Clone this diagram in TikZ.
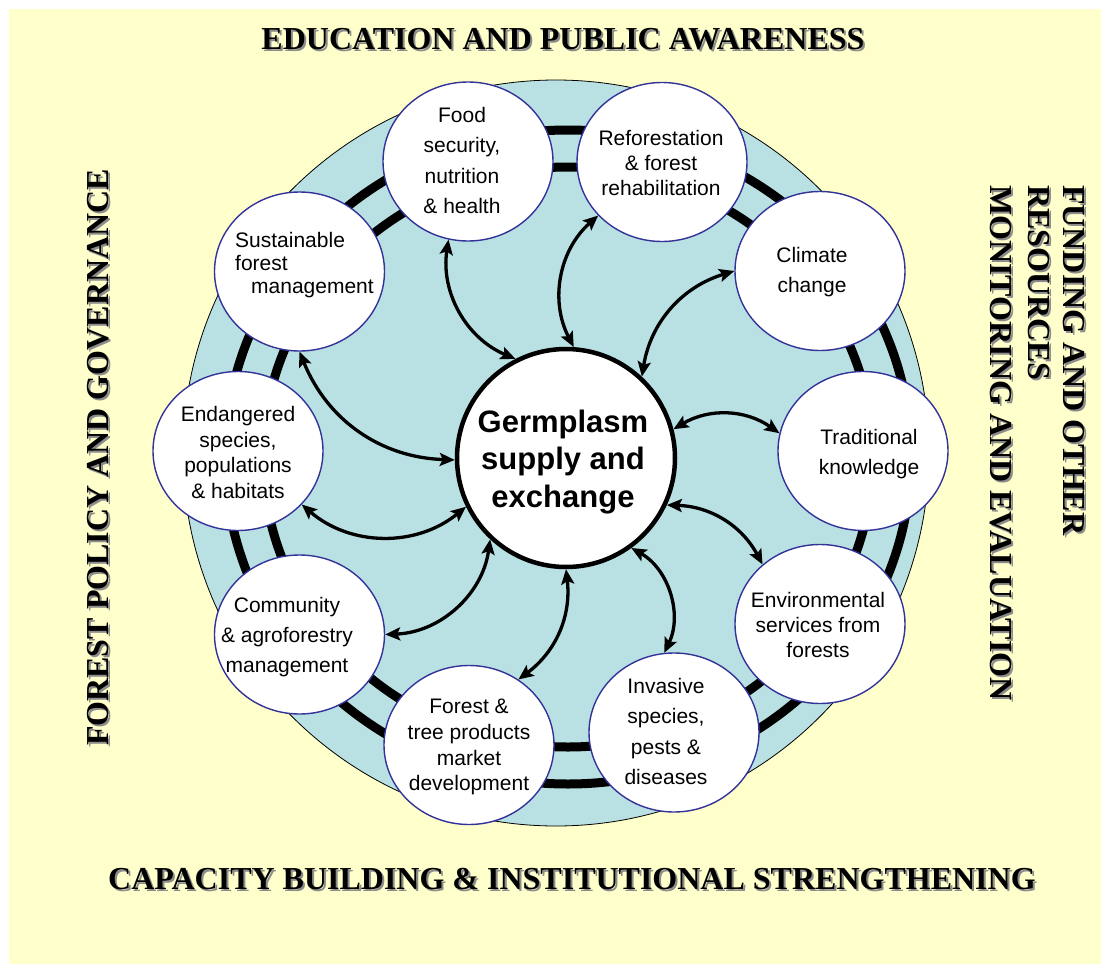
\documentclass[tikz,border=0pt]{standalone}
\usepackage{fontspec}
\setmainfont{Liberation Sans}
\newfontfamily\titlefont{Liberation Serif}
\usetikzlibrary{shapes.geometric,arrows.meta}
\definecolor{bgyellow}{HTML}{FFFFCC}
\definecolor{ringblue}{HTML}{B9E0E3}
\definecolor{navy}{HTML}{333399}
\definecolor{shadowgray}{HTML}{8C8C8C}
\tikzset{
  sat/.style={ellipse, draw=navy, line width=1.4pt, fill=white,
    minimum width=170pt, minimum height=159pt, inner sep=0pt},
  sattext/.style={anchor=north, inner sep=0pt, align=center,
    font=\fontsize{21}{#1}\selectfont},
  linkarrow/.style={line width=3.3pt,
    {Stealth[length=15pt,width=13pt,inset=3pt]}-{Stealth[length=15pt,width=13pt,inset=3pt]}},
  ttl/.style={inner sep=0pt, font=\titlefont\bfseries\fontsize{32}{36}\selectfont},
  ttlshadow/.style={ttl, text=shadowgray},
}
\begin{document}
\begin{tikzpicture}[x=1pt,y=-1pt]
\useasboundingbox (0,0) rectangle (1101,964);
\fill[white] (0,0) rectangle (1101,964);
\fill[bgyellow] (9,9) rectangle (1101,964);

% blue disc and rings
\draw[fill=ringblue, line width=0.8pt] (556,453) circle[radius=373pt];
\draw[line width=9pt] (568,457) ellipse[x radius=343pt, y radius=327pt];
\draw[line width=9pt] (568,457) ellipse[x radius=305pt, y radius=290pt];

% satellites
\node[sat] (food)  at (468,161.5) {};
\node[sat] (refor) at (662,162) {};
\node[sat] (clim)  at (820,271) {};
\node[sat] (trad)  at (863,451) {};
\node[sat] (env)   at (820,624) {};
\node[sat] (inv)   at (674,732.5) {};
\node[sat] (prod)  at (469,745) {};
\node[sat] (comm)  at (299.5,634.5) {};
\node[sat] (endg)  at (238,451) {};
\node[sat] (sfm)   at (299.5,271.5) {};

% centre
\node[circle, draw, line width=4.5pt, fill=white, minimum size=218pt, inner sep=0pt] (germ) at (566,458) {};

% satellite texts
\node[sattext=30.5] (foodt) at (462,107) {Food\\security,\\nutrition\\\& health};
\node[sattext=25] (refort) at (661,130) {Reforestation\\\& forest\\rehabilitation};
\node[sattext=30] (climt) at (812,247) {Climate\\change};
\node[sattext=30] (tradt) at (869,429) {Traditional\\knowledge};
\node[sattext=25] (envt) at (818,592) {Environmental\\services from\\forests};
\node[sattext=30.5] (invt) at (666,678) {Invasive\\species,\\pests \&\\diseases};
\node[sattext=25.7] (prodt) at (469,699) {Forest \&\\tree products\\market\\development};
\node[sattext=30] (commt) at (287,597) {Community\\\& agroforestry\\management};
\node[sattext=25.7] (endgt) at (238,406) {Endangered\\species,\\populations\\\& habitats};
\node[anchor=north west, inner sep=0pt, align=left, font=\fontsize{21}{23}\selectfont] (sfmt) at (235,232)
  {Sustainable\\forest\\\hspace*{16pt}management};

\node[anchor=north, inner sep=0pt, align=center, font=\bfseries\fontsize{31}{37.5}\selectfont] (germt) at (563,409.5)
  {Germplasm\\supply and\\exchange};

% arrows
\draw[linkarrow] (germ.117) to[bend left=38] (food.-104);
\draw[linkarrow] (germ.86)  to[bend left=38] (refor.-140);
\draw[linkarrow] (germ.47)  to[bend left=32] (clim.180);
\draw[linkarrow] (germ.15)  to[bend left=33] (trad.168);
\draw[linkarrow] (germ.-25) to[bend left=30] (env.134);
\draw[linkarrow] (germ.-54) to[bend left=43] (inv.97);
\draw[linkarrow] (germ.-90) to[bend left=30] (prod.53);
\draw[linkarrow] (germ.227) to[bend left=40] (comm.0);
\draw[linkarrow] (germ.206) to[bend left=40] (endg.-40);
\draw[linkarrow] (germ.181) to[bend left=33] (sfm.-90);

% titles with shadows
\node[ttlshadow, anchor=base] (edus) at (565,51) {EDUCATION AND PUBLIC AWARENESS};
\node[ttl, anchor=base] (edu) at (563,49) {EDUCATION AND PUBLIC AWARENESS};

\node[ttlshadow, anchor=base] (caps) at (574,891) {CAPACITY BUILDING \& INSTITUTIONAL STRENGTHENING};
\node[ttl, anchor=base] (cap) at (572,889) {CAPACITY BUILDING \& INSTITUTIONAL STRENGTHENING};

\node[ttlshadow, rotate=90, anchor=base] (fpgs) at (110,459.5) {FOREST POLICY AND GOVERNANCE};
\node[ttl, rotate=90, anchor=base] (fpg) at (108,457.5) {FOREST POLICY AND GOVERNANCE};

\node[ttlshadow, rotate=-90, anchor=base west] (funds) at (1065,187) {FUNDING AND OTHER};
\node[ttl, rotate=-90, anchor=base west] (fund) at (1063,185) {FUNDING AND OTHER};
\node[ttlshadow, rotate=-90, anchor=base west] (ress) at (1030,187) {RESOURCES};
\node[ttl, rotate=-90, anchor=base west] (res) at (1028,185) {RESOURCES};
\node[ttlshadow, rotate=-90, anchor=base west] (mons) at (992,187) {MONITORING AND EVALUATION};
\node[ttl, rotate=-90, anchor=base west] (mon) at (990,185) {MONITORING AND EVALUATION};
\end{tikzpicture}
\end{document}
